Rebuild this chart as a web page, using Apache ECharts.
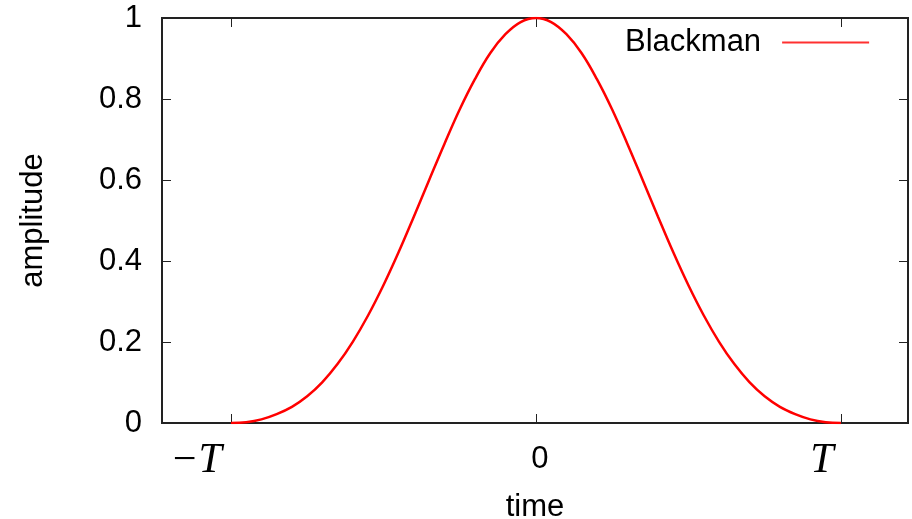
<!DOCTYPE html>
<html>
<head>
<meta charset="utf-8">
<script src="https://cdn.jsdelivr.net/npm/echarts@6/dist/echarts.min.js"></script>
<style>html,body{margin:0;padding:0;background:#fff}#c{width:912px;height:519px}</style>
</head>
<body>
<div id="c"></div>
<script>
// time in units of T
const timeVals = [-1, -0.95, -0.9, -0.85, -0.8, -0.75, -0.7, -0.65, -0.6, -0.55, -0.5, -0.45, -0.4, -0.35, -0.3, -0.25, -0.2, -0.15, -0.1, -0.05,
  0, 0.05, 0.1, 0.15, 0.2, 0.25, 0.3, 0.35, 0.4, 0.45, 0.5, 0.55, 0.6, 0.65, 0.7, 0.75, 0.8, 0.85, 0.9, 0.95, 1];
const blackman = [0.0, 0.002, 0.009, 0.022, 0.040, 0.066, 0.101, 0.146, 0.201, 0.266, 0.340, 0.422, 0.510, 0.600, 0.689, 0.774, 0.849, 0.913, 0.960, 0.990,
  1.0, 0.990, 0.960, 0.913, 0.849, 0.774, 0.689, 0.600, 0.510, 0.422, 0.340, 0.266, 0.201, 0.146, 0.101, 0.066, 0.040, 0.022, 0.009, 0.002, 0.0];
const xTickValues = [-1, 0, 1];
const xTickLabels = ['−T', '0', 'T'];
const yTickValues = [0, 0.2, 0.4, 0.6, 0.8, 1];

const sans = '"Liberation Sans", Arial, sans-serif';
const serif = '"Liberation Serif", "DejaVu Serif", serif';
const chart = echarts.init(document.getElementById('c'));
const tickStyle = {show: true, inside: true, length: 9, lineStyle: {color: '#222', width: 1}};
const noLine = {show: false, onZero: false};
chart.setOption({
  animation: false,
  grid: {left: 162, top: 18, width: 746, height: 405, outerBoundsMode: 'none', containLabel: false, show: true, borderColor: '#222', borderWidth: 2, backgroundColor: 'transparent'},
  legend: {
    data: [{name: 'Blackman', icon: 'rect'}], left: 620, top: 22, align: 'right', itemWidth: 87, itemHeight: 2,
    itemStyle: {color: '#ff3030', borderWidth: 0},
    textStyle: {fontFamily: sans, fontSize: 31, color: '#000', padding: [0, 16, 0, 0]}
  },
  xAxis: [{
    type: 'value', min: -1.226, max: 1.22,
    axisLine: noLine, splitLine: {show: false},
    axisTick: Object.assign({customValues: xTickValues}, tickStyle),
    axisLabel: {
      customValues: xTickValues, margin: 17,
      formatter: v => { const i = xTickValues.indexOf(v); const s = xTickLabels[i]; return v < 0 ? '{m|' + s + '}' : v > 0 ? '{p|' + s + '}' : '{z|' + s + '}'; },
      rich: {
        m: {fontFamily: serif, fontStyle: 'italic', fontSize: 42, color: '#000', padding: [0, 70, 0, 0], lineHeight: 42},
        p: {fontFamily: serif, fontStyle: 'italic', fontSize: 42, color: '#000', padding: [0, 38, 0, 0], lineHeight: 42},
        z: {fontFamily: sans, fontSize: 31, color: '#000', padding: [3, 0, 0, 8], lineHeight: 36}
      }
    },
    name: 'time', nameLocation: 'middle', nameGap: 69,
    nameTextStyle: {fontFamily: sans, fontSize: 31, color: '#000'}
  }, {
    type: 'value', position: 'top', min: -1.226, max: 1.22,
    axisLine: noLine, splitLine: {show: false}, axisLabel: {show: false},
    axisTick: Object.assign({customValues: xTickValues}, tickStyle)
  }],
  yAxis: [{
    type: 'value', min: 0, max: 1, interval: 0.2,
    axisLine: noLine, splitLine: {show: false},
    axisTick: tickStyle,
    axisLabel: {fontFamily: sans, fontSize: 31, color: '#000', margin: 20},
    name: 'amplitude', nameLocation: 'middle', nameGap: 113, nameRotate: 90,
    nameTextStyle: {fontFamily: sans, fontSize: 31, color: '#000'}
  }, {
    type: 'value', position: 'right', min: 0, max: 1, interval: 0.2,
    axisLine: noLine, splitLine: {show: false}, axisLabel: {show: false},
    axisTick: tickStyle
  }],
  series: [{
    name: 'Blackman', type: 'line', xAxisIndex: 0, yAxisIndex: 0,
    data: timeVals.map((t, i) => [t, blackman[i]]),
    smooth: 0.4, showSymbol: false, symbol: 'none',
    lineStyle: {color: '#ff0000', width: 2.5}, itemStyle: {color: '#ff0000'}
  }]
});
</script>
</body>
</html>
